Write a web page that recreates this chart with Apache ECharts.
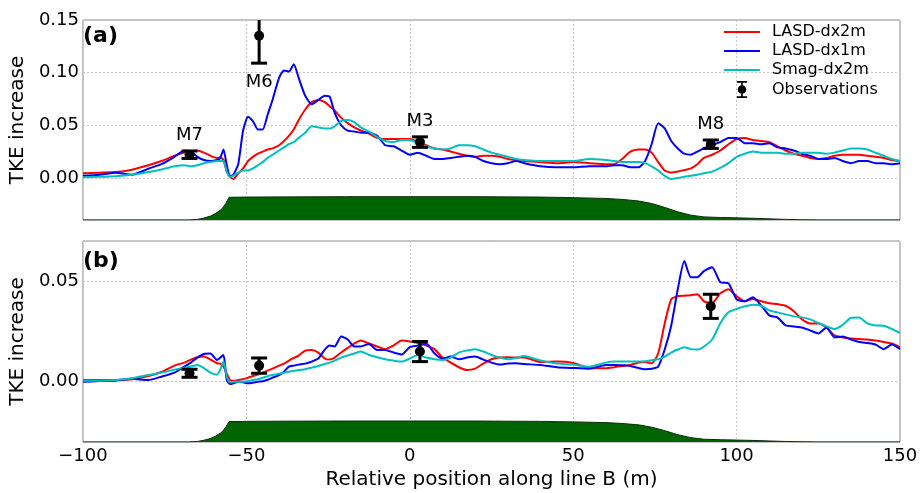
<!DOCTYPE html>
<html>
<head>
<meta charset="utf-8">
<script src="https://cdn.jsdelivr.net/npm/echarts@6/dist/echarts.min.js"></script>
<style>
  body { margin: 0; background: #fff; }
  #chart { width: 924px; height: 493px; }
</style>
</head>
<body>
<div id="chart"></div>
<script>
// positions along line B (m), shared by all model curves
const xPos = [
  -100, -95, -90, -85, -80, -76, -72, -69, -67, -65,
  -63, -61, -59, -58, -57, -56, -55, -54, -52.5, -51,
  -49.5, -48, -46.5, -45, -43.5, -42, -40, -38.5, -37, -35.5,
  -34, -32, -30, -28, -26, -24.5, -23, -21, -19, -17,
  -15, -12.5, -10, -7.5, -5, -2.5, 0, 2.5, 5, 7.5,
  10, 12.5, 15, 17.5, 20, 22.5, 25, 27.5, 30, 32.5,
  35, 40, 45, 50, 55, 60, 62.5, 65, 67.5, 70,
  72, 74, 76, 78, 80, 82, 84, 86, 88, 90,
  92.5, 95, 97.5, 100, 102.5, 105, 107.5, 110, 112.5, 115,
  117.5, 120, 122.5, 125, 127.5, 130, 132.5, 135, 137.5, 140,
  142.5, 145, 147.5, 150
];

// panel (a)
const lasd2mA = [
  0.0045, 0.005, 0.0055, 0.0078, 0.012, 0.016, 0.021, 0.024, 0.0255, 0.026,
  0.024, 0.021, 0.019, 0.0195, 0.017, 0.006, 0.001, -0.001, 0.004, 0.009,
  0.016, 0.02, 0.023, 0.025, 0.027, 0.028, 0.031, 0.035, 0.04, 0.046,
  0.055, 0.065, 0.072, 0.074, 0.072, 0.068, 0.064, 0.057, 0.052, 0.048,
  0.045, 0.042, 0.038, 0.037, 0.037, 0.037, 0.037, 0.034, 0.031, 0.028,
  0.027, 0.025, 0.023, 0.021, 0.02, 0.021, 0.021, 0.02, 0.018, 0.017,
  0.016, 0.015, 0.014, 0.015, 0.014, 0.013, 0.013, 0.018, 0.025, 0.027,
  0.027, 0.024, 0.015, 0.007, 0.005, 0.006, 0.0075, 0.009, 0.013, 0.019,
  0.022, 0.026, 0.032, 0.037, 0.038, 0.036, 0.035, 0.034, 0.03, 0.026,
  0.023, 0.021, 0.019, 0.018, 0.019, 0.021, 0.022, 0.022, 0.022, 0.021,
  0.02, 0.019, 0.017, 0.016
];
const lasd1mA = [
  0.002, 0.003, 0.005, 0.003, 0.0087, 0.013, 0.02, 0.026, 0.025, 0.02,
  0.017, 0.016, 0.017, 0.019, 0.027, 0.012, 0.002, 0.003, 0.013, 0.045,
  0.058, 0.054, 0.046, 0.046, 0.06, 0.074, 0.095, 0.102, 0.101, 0.108,
  0.095, 0.078, 0.07, 0.074, 0.078, 0.077, 0.062, 0.05, 0.045, 0.044,
  0.043, 0.043, 0.04, 0.031, 0.03, 0.026, 0.022, 0.024, 0.021, 0.018,
  0.018, 0.019, 0.02, 0.021, 0.02, 0.016, 0.014, 0.013, 0.014, 0.016,
  0.014, 0.011, 0.01, 0.01, 0.011, 0.011, 0.012, 0.012, 0.01, 0.01,
  0.016, 0.032, 0.052, 0.047, 0.035, 0.028, 0.023, 0.022, 0.025, 0.028,
  0.031, 0.034, 0.038, 0.038, 0.033, 0.033, 0.032, 0.033, 0.029, 0.028,
  0.026, 0.023, 0.021, 0.018, 0.018, 0.019, 0.016, 0.014, 0.016, 0.016,
  0.014, 0.014, 0.013, 0.014
];
const smag2mA = [
  0.0006, 0.001, 0.0016, 0.003, 0.0055, 0.008, 0.011, 0.012, 0.011, 0.012,
  0.014, 0.015, 0.016, 0.016, 0.016, 0.006, 0.001, 0.002, 0.005, 0.007,
  0.007, 0.009, 0.012, 0.015, 0.019, 0.022, 0.026, 0.029, 0.032, 0.034,
  0.038, 0.043, 0.049, 0.048, 0.047, 0.047, 0.049, 0.054, 0.055, 0.053,
  0.048, 0.044, 0.039, 0.035, 0.034, 0.036, 0.036, 0.033, 0.03, 0.028,
  0.027, 0.028, 0.031, 0.031, 0.03, 0.027, 0.024, 0.022, 0.02, 0.018,
  0.017, 0.016, 0.016, 0.016, 0.018, 0.017, 0.016, 0.015, 0.015, 0.015,
  0.014, 0.011, 0.007, 0.002, -0.001, 0.0, 0.001, 0.002, 0.003, 0.0045,
  0.006, 0.0095, 0.014, 0.02, 0.023, 0.025, 0.024, 0.024, 0.024, 0.023,
  0.023, 0.024, 0.024, 0.024, 0.023, 0.024, 0.026, 0.028, 0.028, 0.027,
  0.024, 0.021, 0.018, 0.016
];

// panel (b)
const lasd2mB = [
  0.0008, 0.0008, 0.0008, 0.0012, 0.0028, 0.0048, 0.008, 0.0095, 0.011, 0.0122,
  0.0125, 0.011, 0.0092, 0.009, 0.0075, 0.004, 0.0008, 0.0005, 0.0008, 0.0012,
  0.002, 0.0028, 0.0035, 0.0045, 0.0055, 0.0065, 0.008, 0.009, 0.0105, 0.0118,
  0.013, 0.0155, 0.0158, 0.0145, 0.0115, 0.011, 0.012, 0.0145, 0.0168, 0.019,
  0.0205, 0.019, 0.0175, 0.0162, 0.018, 0.0205, 0.02, 0.0192, 0.018, 0.0162,
  0.012, 0.0095, 0.0072, 0.0058, 0.0065, 0.009, 0.0112, 0.012, 0.0122, 0.012,
  0.012, 0.0098, 0.01, 0.0093, 0.0068, 0.0067, 0.0072, 0.0078, 0.0083, 0.0095,
  0.0098, 0.0092, 0.014, 0.029, 0.041, 0.0425, 0.0428, 0.043, 0.0435, 0.04,
  0.039, 0.044, 0.046, 0.0425, 0.04, 0.0412, 0.04, 0.039, 0.0386, 0.0378,
  0.035, 0.031, 0.029, 0.029, 0.027, 0.023, 0.022, 0.0215, 0.0212, 0.021,
  0.0205, 0.0198, 0.019, 0.0172
];
const lasd1mB = [
  0.0, 0.0003, 0.0005, 0.0015, 0.0008, 0.0025, 0.0045, 0.0075, 0.0095, 0.012,
  0.0138, 0.014, 0.0108, 0.012, 0.0133, 0.0008, -0.0012, -0.0008, 0.0, -0.0003,
  -0.0008, -0.0005, 0.0, 0.0002, 0.001, 0.002, 0.0033, 0.005, 0.0075, 0.008,
  0.0085, 0.009, 0.01, 0.0115, 0.016, 0.018, 0.0175, 0.0225, 0.021, 0.0175,
  0.0175, 0.0188, 0.0158, 0.0158, 0.0145, 0.0135, 0.0172, 0.018, 0.019, 0.0142,
  0.0115, 0.0125, 0.0112, 0.012, 0.0125, 0.011, 0.0095, 0.0085, 0.009, 0.0092,
  0.0088, 0.0083, 0.0072, 0.0068, 0.0065, 0.0083, 0.0083, 0.0082, 0.0078, 0.0068,
  0.0062, 0.0064, 0.0075, 0.016, 0.028, 0.046, 0.06, 0.052, 0.052, 0.055,
  0.057, 0.0495, 0.049, 0.041, 0.04, 0.042, 0.038, 0.033, 0.032, 0.028,
  0.0275, 0.027, 0.0255, 0.024, 0.027, 0.022, 0.0225, 0.021, 0.0198, 0.0192,
  0.0185, 0.0162, 0.0185, 0.0162
];
const smag2mB = [
  0.0005, 0.0005, 0.0008, 0.0017, 0.0033, 0.0045, 0.006, 0.007, 0.0076, 0.0083,
  0.0068, 0.0045, 0.0035, 0.006, 0.01, 0.0025, -0.0004, 0.0, 0.0, 0.0,
  0.0003, 0.0008, 0.0012, 0.002, 0.0027, 0.0033, 0.004, 0.0045, 0.005, 0.0053,
  0.0058, 0.0062, 0.007, 0.0078, 0.0088, 0.0095, 0.0105, 0.012, 0.013, 0.014,
  0.015, 0.0133, 0.0122, 0.0112, 0.0105, 0.01, 0.0115, 0.0133, 0.012, 0.0112,
  0.0108, 0.012, 0.0145, 0.0155, 0.0162, 0.015, 0.0133, 0.012, 0.0112, 0.0118,
  0.0128, 0.0105, 0.009, 0.0085, 0.0075, 0.0095, 0.01, 0.01, 0.01, 0.01,
  0.0102, 0.0107, 0.0112, 0.0125, 0.0145, 0.016, 0.0172, 0.0162, 0.016, 0.0175,
  0.021, 0.029, 0.0345, 0.0362, 0.0375, 0.0383, 0.0378, 0.0355, 0.0345, 0.0335,
  0.0325, 0.032, 0.031, 0.0292, 0.0275, 0.0262, 0.0283, 0.0318, 0.032, 0.029,
  0.028, 0.0278, 0.0262, 0.0242
];

// observations: M7, M6, M3, M8
const obsNames = ['M7', 'M6', 'M3', 'M8'];
const obsX = [-67.4, -46.1, 3.1, 92.1];
const obsA = [0.022, 0.135, 0.034, 0.032];
const obsErrA = [0.0035, 0.026, 0.005, 0.004];
const obsB = [0.0042, 0.008, 0.015, 0.0375];
const obsErrB = [0.002, 0.0038, 0.005, 0.006];

// hill profile (m)
const terrainX = [-100, -67.5, -65, -63, -61, -59.5, -58, -57.3, -56.3, -55.3,
  -50, -40, -20, 0, 20, 40, 50, 60, 65, 70,
  74, 78, 82, 86, 90, 95, 100, 105, 110, 115,
  120, 125, 150];
const terrainH = [0, 0, 0.3, 1.0, 2.0, 3.3, 5.0, 6.1, 8.5, 11.7,
  11.8, 11.9, 12, 12, 12, 11.8, 11.5, 11.1, 10.6, 9.8,
  8.5, 6.5, 4.2, 2.5, 1.6, 1.3, 1.1, 0.9, 0.6, 0.3,
  0.1, 0, 0];

const FONT = 'DejaVu Sans';
const pairs = vals => xPos.map((x, i) => [x, vals[i]]);
const terrain = terrainX.map((x, i) => [x, terrainH[i]]);

function obsRender(showLabels) {
  return function (params, api) {
    const i = params.dataIndex;
    const x = api.value(0), y = api.value(1), e = api.value(2);
    const cs = params.coordSys;
    const p = api.coord([x, y]);
    const t = api.coord([x, y + e]);
    const b = api.coord([x, y - e]);
    const topY = Math.max(t[1], cs.y);
    const st = { stroke: '#000', lineWidth: 3 };
    const kids = [
      { type: 'line', shape: { x1: p[0], y1: topY, x2: p[0], y2: b[1] }, style: st },
      { type: 'line', shape: { x1: p[0] - 8, y1: b[1], x2: p[0] + 8, y2: b[1] }, style: st },
      { type: 'circle', shape: { cx: p[0], cy: p[1], r: 5 }, style: { fill: '#000' } }
    ];
    if (t[1] >= cs.y) {
      kids.push({ type: 'line', shape: { x1: p[0] - 8, y1: t[1], x2: p[0] + 8, y2: t[1] }, style: st });
    }
    if (showLabels) {
      const below = obsNames[i] === 'M6';
      kids.push({
        type: 'text', x: p[0], y: below ? b[1] + 19 : t[1] - 16,
        style: { text: obsNames[i], fill: '#000', fontSize: 18, fontFamily: FONT,
                 align: 'center', verticalAlign: 'middle' }
      });
    }
    return { type: 'group', children: kids };
  };
}

const lineSeries = (name, color, vals, gi) => ({
  name: name, type: 'line', xAxisIndex: gi, yAxisIndex: gi * 2,
  data: pairs(vals), symbol: 'none', smooth: 0.2,
  lineStyle: { color: color, width: 2 }, itemStyle: { color: color }, z: 3
});

const terrainSeries = gi => ({
  name: 'terrain', type: 'line', xAxisIndex: gi, yAxisIndex: gi * 2 + 1,
  data: terrain, symbol: 'none', silent: true,
  lineStyle: { color: '#0d2b0d', width: 1 },
  areaStyle: { color: '#006400', opacity: 1 }, z: 1
});

const obsSeries = (gi, y, err, labels) => ({
  name: 'Observations', type: 'custom', xAxisIndex: gi, yAxisIndex: gi * 2,
  data: obsX.map((x, i) => [x, y[i], err[i]]),
  renderItem: obsRender(labels), itemStyle: { color: '#000' }, z: 5
});

const gridLine = { show: true, lineStyle: { color: '#c8c8c8', type: [2, 2], width: 1 } };

const xAxisBase = gi => ({
  type: 'value', gridIndex: gi, min: -100, max: 150, interval: 50,
  axisLine: { show: false }, axisTick: { show: false }, splitLine: gridLine,
  axisLabel: {
    show: gi === 1, fontSize: 18, color: '#000', fontFamily: FONT, margin: 5,
    formatter: v => String(v).replace('-', '\u2212')
  }
});

const yAxisBase = (gi, min, max, split) => ({
  type: 'value', gridIndex: gi, min: min, max: max, splitNumber: split,
  name: 'TKE increase', nameLocation: 'middle', nameGap: 52, nameRotate: 90,
  nameTextStyle: { fontSize: 20, color: '#000', fontFamily: FONT },
  axisLine: { show: false }, axisTick: { show: false }, splitLine: gridLine,
  axisLabel: {
    fontSize: 18, color: '#000', fontFamily: FONT, margin: 4,
    showMinLabel: false, showMaxLabel: gi === 0,
    formatter: v => v.toFixed(2)
  }
});

const lineIcon = 'path://M0,0H36V2.2H0Z';
const legendText = { fontSize: 16, color: '#000', fontFamily: FONT, padding: [0, 0, 0, 7] };

const option = {
  animation: false,
  backgroundColor: '#fff',
  textStyle: { fontFamily: FONT },
  title: [
    { text: '(a)', left: 83, top: 25, padding: 0,
      textStyle: { fontSize: 22, fontWeight: 'bold', color: '#000', fontFamily: FONT } },
    { text: '(b)', left: 83, top: 250, padding: 0,
      textStyle: { fontSize: 22, fontWeight: 'bold', color: '#000', fontFamily: FONT } }
  ],
  legend: {
    data: [
      { name: 'LASD-dx2m', icon: lineIcon, textStyle: legendText },
      { name: 'LASD-dx1m', icon: lineIcon, textStyle: legendText },
      { name: 'Smag-dx2m', icon: lineIcon, textStyle: legendText },
      { name: 'Observations', textStyle: legendText,
        icon: 'path://M0,0H12V2H0Z M5,2H7V18H5Z M0,18H12V20H0Z M6,5A5,5 0 1,1 5.99,5Z' }
    ],
    orient: 'vertical', left: 724, top: 24, padding: 0,
    itemWidth: 36, itemHeight: 17, itemGap: 3,
    textStyle: legendText,
    selectedMode: false
  },
  grid: [
    { left: 80, top: 20, width: 820, height: 200, show: true,
      borderColor: '#888', borderWidth: 1, containLabel: false },
    { left: 80, top: 241, width: 820, height: 201, show: true,
      borderColor: '#888', borderWidth: 1, containLabel: false }
  ],
  xAxis: [
    xAxisBase(0),
    Object.assign(xAxisBase(1), {
      name: 'Relative position along line B (m)', nameLocation: 'middle', nameGap: 28,
      nameTextStyle: { fontSize: 20, color: '#000', fontFamily: FONT }
    })
  ],
  yAxis: [
    yAxisBase(0, -0.04, 0.15, 4),
    { type: 'value', gridIndex: 0, min: 0, max: 103, show: false, splitLine: { show: false } },
    yAxisBase(1, -0.03, 0.07, 2),
    { type: 'value', gridIndex: 1, min: 0, max: 115, show: false, splitLine: { show: false } }
  ],
  series: [
    terrainSeries(0),
    terrainSeries(1),
    lineSeries('LASD-dx2m', '#ff0000', lasd2mA, 0),
    lineSeries('LASD-dx1m', '#0000ff', lasd1mA, 0),
    lineSeries('Smag-dx2m', '#00bfbf', smag2mA, 0),
    lineSeries('LASD-dx2m', '#ff0000', lasd2mB, 1),
    lineSeries('LASD-dx1m', '#0000ff', lasd1mB, 1),
    lineSeries('Smag-dx2m', '#00bfbf', smag2mB, 1),
    obsSeries(0, obsA, obsErrA, true),
    obsSeries(1, obsB, obsErrB, false)
  ]
};

const chart = echarts.init(document.getElementById('chart'));
chart.setOption(option);
</script>
</body>
</html>
